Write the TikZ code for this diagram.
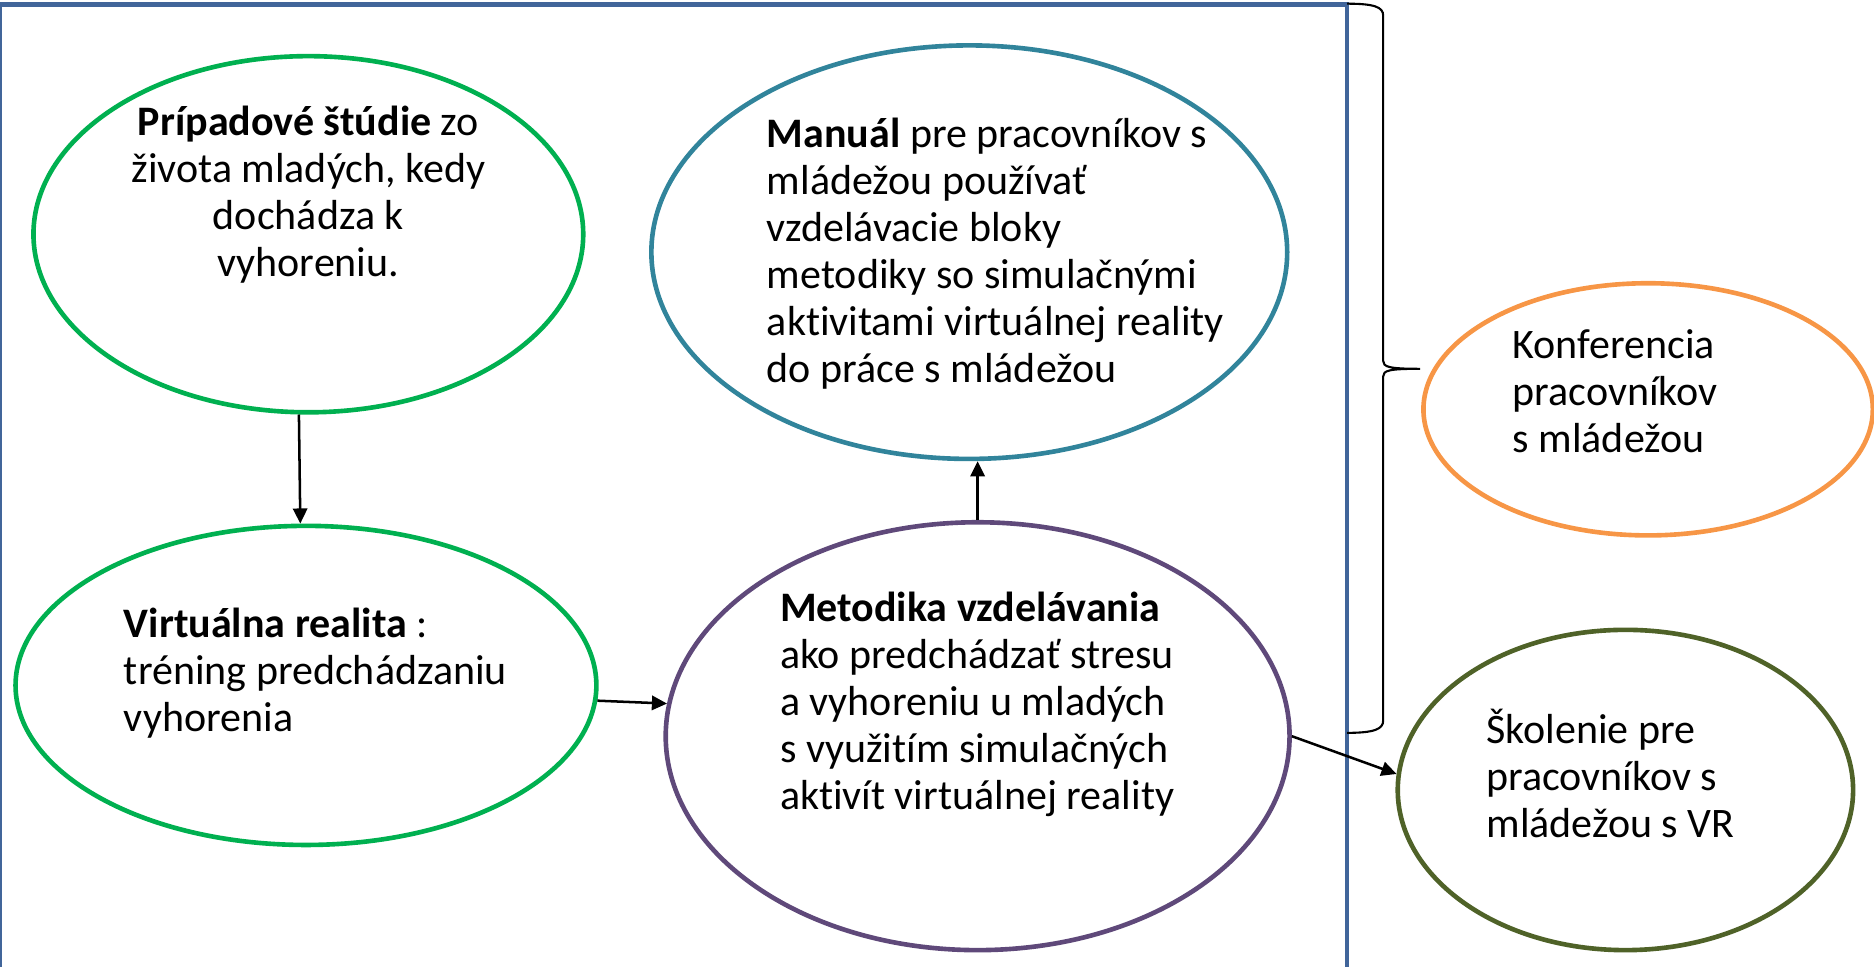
\documentclass[tikz,border=0pt]{standalone}
\usepackage{fontspec}
\setmainfont{Carlito}[Ligatures=NoCommon]
\usepackage{tikz}
\usetikzlibrary{arrows.meta, shapes.geometric, calc}

\definecolor{ramblue}{HTML}{41659A}
\definecolor{zelena}{HTML}{00B050}
\definecolor{tyrkys}{HTML}{31849B}
\definecolor{fialova}{HTML}{5F497A}
\definecolor{oranzova}{HTML}{F79646}
\definecolor{olivova}{HTML}{4F6228}

\begin{document}
\begin{tikzpicture}[
        bubble/.style={ellipse, line width=1.1pt},
        txt/.style={font=\fontsize{10}{11.2}\selectfont, align=left, inner sep=0pt},
        sipka/.style={-{Triangle[length=3.6pt, width=3.4pt]}, line width=0.6pt}
    ]
        \useasboundingbox (0,0) rectangle (15.68,8.09);
        \draw[ramblue, line width=1.1pt] (0,-0.5) rectangle (11.27,8.05);

        \node[bubble, draw=zelena, minimum width=4.6cm, minimum height=2.98cm] (pripad) at (2.58,6.13) {};
        \node[txt, align=center] (pripadtext) at (2.58,6.46) {\textbf{Prípadové štúdie} zo\\života mladých, kedy\\dochádza k\\vyhoreniu.};

        \node[bubble, draw=zelena, minimum width=4.86cm, minimum height=2.67cm] (virt) at (2.56,2.355) {};
        \node[txt, anchor=west] (virttext) at (1.03,2.46) {\textbf{Virtuálna realita} :\\tréning predchádzaniu\\vyhorenia};

        \node[bubble, draw=tyrkys, minimum width=5.32cm, minimum height=3.46cm] (manual) at (8.11,5.98) {};
        \node[txt, anchor=west] (manualtext) at (6.41,5.965) {\textbf{Manuál} pre pracovníkov s\\mládežou používať\\vzdelávacie bloky\\metodiky so simulačnými\\aktivitami virtuálnej reality\\do práce s mládežou};

        \node[bubble, draw=fialova, minimum width=5.22cm, minimum height=3.58cm] (metod) at (8.18,1.93) {};
        \node[txt, anchor=west] (metodtext) at (6.52,2.195) {\textbf{Metodika vzdelávania}\\ako predchádzať stresu\\a vyhoreniu u mladých\\s využitím simulačných\\aktivít virtuálnej reality};

        \node[bubble, draw=oranzova, minimum width=3.76cm, minimum height=2.11cm] (konf) at (13.79,4.665) {};
        \node[txt, anchor=west] (konftext) at (12.65,4.82) {Konferencia\\pracovníkov\\s mládežou};

        \node[bubble, draw=olivova, minimum width=3.81cm, minimum height=2.68cm] (skol) at (13.60,1.48) {};
        \node[txt, anchor=west] (skoltext) at (12.43,1.615) {Školenie pre\\pracovníkov s\\mládežou s VR};

        \draw[sipka] (pripad.267) -- (virt.92);
        \draw[sipka] (virt.-3) -- (metod.174);
        \draw[sipka] (metod.north) -- (metod.north |- manual.south);
        \draw[sipka] (metod.east) -- (skol.176);

        \draw[line width=0.5pt] (11.272,8.059) .. controls (11.50,8.059) and (11.573,8.03) .. (11.573,7.96)
            -- (11.573,5.07) .. controls (11.573,5.02) and (11.62,5.004) .. (11.883,5.004)
            .. controls (11.62,5.004) and (11.573,4.99) .. (11.573,4.94)
            -- (11.573,2.06) .. controls (11.573,1.99) and (11.50,1.958) .. (11.272,1.958);
    \end{tikzpicture}
\end{document}
